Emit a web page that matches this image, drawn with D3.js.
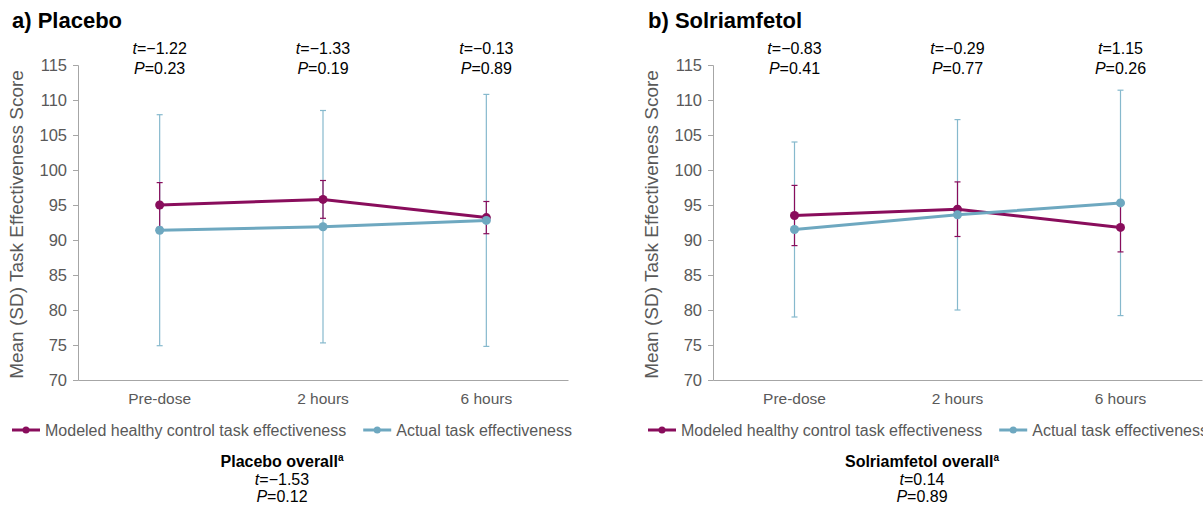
<!DOCTYPE html>
<html lang="en">
<head>
<meta charset="UTF-8">
<title>Task Effectiveness</title>
<script src="https://d3js.org/d3.v7.min.js"></script>
<style>
  body { margin: 0; background: #fff; }
  text { font-family: "Liberation Sans", Arial, sans-serif; }
</style>
</head>
<body>
<svg id="chart"></svg>
<script>
// Data
const categories = ["Pre-dose", "2 hours", "6 hours"];
const yTicks = [70, 75, 80, 85, 90, 95, 100, 105, 110, 115];

const placeboModeled = [95.0, 95.8, 93.2];
const placeboModeledSD = [3.2, 2.7, 2.3];
const placeboActual = [91.4, 91.9, 92.8];
const placeboActualSD = [16.5, 16.6, 18.0];
const placeboT = ["\u22121.22", "\u22121.33", "\u22120.13"];
const placeboP = ["0.23", "0.19", "0.89"];
const placeboOverall = ["\u22121.53", "0.12"];

const solModeled = [93.5, 94.4, 91.8];
const solModeledSD = [4.3, 3.9, 3.5];
const solActual = [91.5, 93.6, 95.3];
const solActualSD = [12.5, 13.6, 16.1];
const solT = ["\u22120.83", "\u22120.29", "1.15"];
const solP = ["0.41", "0.77", "0.26"];
const solOverall = ["0.14", "0.89"];

const seriesNames = ["Modeled healthy control task effectiveness", "Actual task effectiveness"];

// Styles
const purple = "#890d5c";
const blue = "#6ea8c0";
const blueBar = "#86b9cd";
const grey = "#595959";
const axisGrey = "#a6a6a6";

const W = 1203, H = 505;
const svg = d3.select("#chart").attr("width", W).attr("height", H);

function drawPanel(opt) {
    const g = svg.append("g");

    const x = d3.scaleBand().domain(categories).range([opt.left, opt.right]);
    const y = d3.scaleLinear().domain([70, 115]).range([380, 65]);
    const cx = c => x(c) + x.bandwidth() / 2;

    // title
    g.append("text")
        .attr("x", opt.titleX).attr("y", 28)
        .attr("font-size", "22px").attr("font-weight", "bold").attr("fill", "#000")
        .text(opt.title);

    // y axis
    const yAxis = g.append("g")
        .attr("transform", `translate(${opt.left},0)`)
        .call(d3.axisLeft(y).tickValues(yTicks).tickSize(5).tickPadding(6));
    yAxis.select(".domain").attr("stroke", axisGrey);
    yAxis.selectAll(".tick line").attr("stroke", axisGrey);
    yAxis.selectAll(".tick text")
        .attr("font-size", "16.5px").attr("fill", grey)
        .attr("font-family", "Liberation Sans, Arial, sans-serif");

    // x axis (line only)
    const xAxis = g.append("g")
        .attr("transform", `translate(0,${y(70)})`)
        .call(d3.axisBottom(x).tickSize(0).tickPadding(13));
    xAxis.select(".domain").attr("stroke", axisGrey);
    xAxis.selectAll(".tick text")
        .attr("font-size", "15.5px").attr("fill", grey)
        .attr("font-family", "Liberation Sans, Arial, sans-serif");

    // y axis title
    const ty = (y(70) + y(115)) / 2 + 2;
    g.append("text")
        .attr("transform", `translate(${opt.left - 55},${ty}) rotate(-90)`)
        .attr("text-anchor", "middle")
        .attr("font-size", "19px").attr("fill", grey)
        .text("Mean (SD) Task Effectiveness Score");

    // t / P annotations
    categories.forEach((c, i) => {
        const t1 = g.append("text").attr("x", cx(c)).attr("y", 54)
            .attr("text-anchor", "middle").attr("font-size", "16px").attr("fill", "#000");
        t1.append("tspan").attr("font-style", "italic").text("t");
        t1.append("tspan").text("=" + opt.t[i]);
        const t2 = g.append("text").attr("x", cx(c)).attr("y", 74)
            .attr("text-anchor", "middle").attr("font-size", "16px").attr("fill", "#000");
        t2.append("tspan").attr("font-style", "italic").text("P");
        t2.append("tspan").text("=" + opt.p[i]);
    });

    const series = [
        { mean: opt.modeled, sd: opt.modeledSD, color: purple, bar: purple },
        { mean: opt.actual, sd: opt.actualSD, color: blue, bar: blueBar }
    ];

    // error bars (actual first, then modeled)
    [series[1], series[0]].forEach(s => {
        const eb = g.append("g");
        categories.forEach((c, i) => {
            const top = y(s.mean[i] + s.sd[i]), bot = y(s.mean[i] - s.sd[i]);
            eb.append("line").attr("x1", cx(c)).attr("x2", cx(c)).attr("y1", top).attr("y2", bot)
                .attr("stroke", s.bar).attr("stroke-width", 1.2);
            [top, bot].forEach(v => eb.append("line")
                .attr("x1", cx(c) - 3).attr("x2", cx(c) + 3).attr("y1", v).attr("y2", v)
                .attr("stroke", s.bar).attr("stroke-width", 1.2));
        });
    });

    // lines + points
    series.forEach(s => {
        const line = d3.line().x((d, i) => cx(categories[i])).y(d => y(d));
        g.append("path").datum(s.mean).attr("d", line)
            .attr("fill", "none").attr("stroke", s.color).attr("stroke-width", 3);
        g.selectAll(null).data(s.mean).join("circle")
            .attr("cx", (d, i) => cx(categories[i])).attr("cy", d => y(d))
            .attr("r", 4.5).attr("fill", s.color);
    });

    // legend
    const legY = 430;
    let lx = opt.legendX;
    [purple, blue].forEach((col, k) => {
        g.append("line").attr("x1", lx).attr("x2", lx + 28).attr("y1", legY).attr("y2", legY)
            .attr("stroke", col).attr("stroke-width", 3);
        g.append("circle").attr("cx", lx + 14).attr("cy", legY).attr("r", 3.5).attr("fill", col);
        const tx = g.append("text").attr("x", lx + 33).attr("y", legY + 6)
            .attr("font-size", "16px").attr("fill", grey).text(seriesNames[k]);
        lx += 33 + tx.node().getComputedTextLength() + 17;
    });

    // overall stats
    const ox = opt.overallX;
    const o1 = g.append("text").attr("x", ox).attr("y", 467).attr("text-anchor", "middle")
        .attr("font-size", "16px").attr("font-weight", "bold").attr("fill", "#000");
    o1.append("tspan").text(opt.overallLabel + " overall");
    o1.append("tspan").attr("font-size", "10px").attr("dy", -6).text("a");
    const o2 = g.append("text").attr("x", ox).attr("y", 485).attr("text-anchor", "middle")
        .attr("font-size", "16px").attr("fill", "#000");
    o2.append("tspan").attr("font-style", "italic").text("t");
    o2.append("tspan").text("=" + opt.overall[0]);
    const o3 = g.append("text").attr("x", ox).attr("y", 502).attr("text-anchor", "middle")
        .attr("font-size", "16px").attr("fill", "#000");
    o3.append("tspan").attr("font-style", "italic").text("P");
    o3.append("tspan").text("=" + opt.overall[1]);
}

drawPanel({
    title: "a) Placebo", titleX: 12, left: 78, right: 568, legendX: 12, overallX: 282,
    modeled: placeboModeled, modeledSD: placeboModeledSD,
    actual: placeboActual, actualSD: placeboActualSD,
    t: placeboT, p: placeboP, overallLabel: "Placebo", overall: placeboOverall
});

drawPanel({
    title: "b) Solriamfetol", titleX: 648, left: 713, right: 1202, legendX: 648, overallX: 922,
    modeled: solModeled, modeledSD: solModeledSD,
    actual: solActual, actualSD: solActualSD,
    t: solT, p: solP, overallLabel: "Solriamfetol", overall: solOverall
});
</script>
</body>
</html>
